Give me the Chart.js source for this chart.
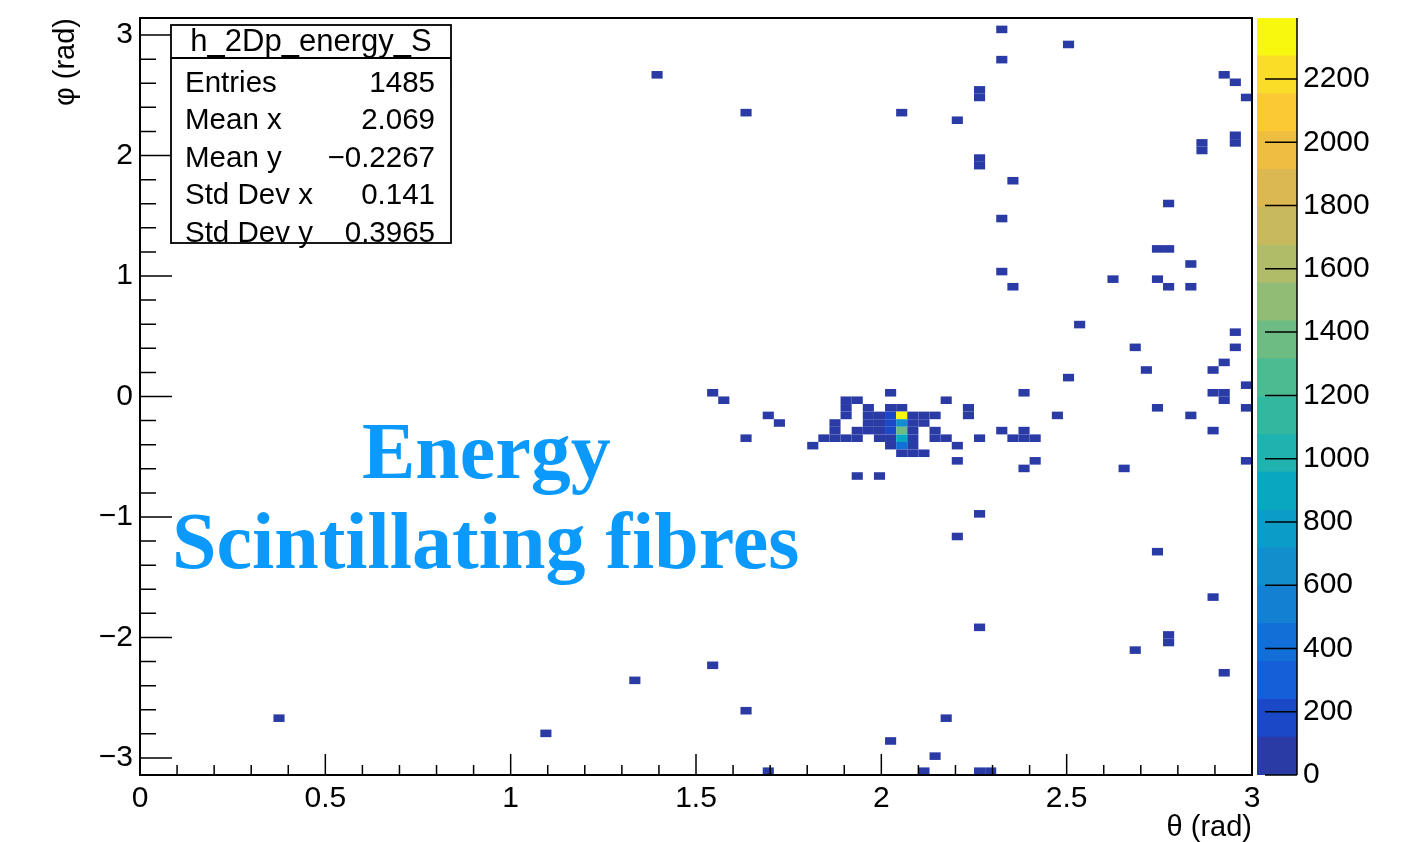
<!DOCTYPE html>
<html>
<head>
<meta charset="utf-8">
<script src="https://cdn.jsdelivr.net/npm/chart.js@4.4.1/dist/chart.umd.min.js"></script>
<style>
  html, body { margin: 0; padding: 0; background: #fff; }
  #wrap { position: relative; width: 1414px; height: 842px; }
  #main { position: absolute; left: 0; top: 0; }
  #zbar { position: absolute; left: 1252px; top: 0; }
</style>
</head>
<body>
<div id="wrap">
  <canvas id="main" width="1414" height="842"></canvas>
  <canvas id="zbar" width="162" height="842"></canvas>
</div>
<script>
// phi bin centres (rad), one entry per occupied row, top to bottom
const phiRows = [3.047, 2.922, 2.796, 2.670, 2.608, 2.545, 2.482, 2.356, 2.293, 2.168,
  2.105, 2.042, 1.979, 1.916, 1.791, 1.602, 1.477, 1.225, 1.100, 1.037,
  0.974, 0.911, 0.597, 0.534, 0.408, 0.283, 0.220, 0.157, 0.094, 0.031,
  -0.031, -0.094, -0.157, -0.220, -0.283, -0.346, -0.408, -0.471, -0.534, -0.597,
  -0.660, -0.974, -1.162, -1.288, -1.665, -1.916, -1.979, -2.042, -2.105, -2.231,
  -2.293, -2.356, -2.608, -2.670, -2.796, -2.859, -2.985, -3.110];

// theta bin centres (rad) of the filled cells in each row
const thetaRows = [
  [2.325], [2.505], [2.325], [1.395, 2.925], [0.825, 2.955], [2.265], [2.265, 2.985],
  [1.635, 2.055], [2.205], [2.955], [2.865, 2.955], [2.865], [2.265], [2.265], [2.355],
  [2.775], [2.325], [2.745, 2.775], [2.835], [2.325], [2.625, 2.745], [2.355, 2.775, 2.835],
  [2.535], [2.955], [2.685, 2.955], [2.925], [2.715, 2.895], [2.505], [2.985],
  [1.545, 2.025, 2.385, 2.895, 2.925],
  [1.575, 1.905, 1.935, 2.175, 2.925],
  [1.905, 1.965, 2.025, 2.055, 2.235, 2.745, 2.985],
  [1.695, 1.905, 1.965, 1.995, 2.025, 2.055, 2.085, 2.115, 2.145, 2.235, 2.475, 2.835],
  [1.725, 1.875, 1.965, 1.995, 2.025, 2.055, 2.085, 2.115],
  [1.875, 1.935, 1.965, 1.995, 2.025, 2.055, 2.085, 2.145, 2.325, 2.385, 2.895],
  [1.635, 1.845, 1.875, 1.905, 1.935, 1.995, 2.025, 2.055, 2.085, 2.145, 2.175, 2.265, 2.355, 2.385, 2.415],
  [1.815, 2.025, 2.055, 2.085, 2.205],
  [2.055, 2.085, 2.115],
  [2.205, 2.415, 2.985],
  [2.385, 2.655],
  [1.935, 1.995],
  [2.265], [2.205], [2.745], [2.895], [2.265], [2.775], [2.775], [2.685], [1.545],
  [2.925], [1.335], [1.635], [0.375, 2.175], [1.095], [2.025], [2.145],
  [1.695, 2.115, 2.265, 2.295]
];

// energy content of those cells
const energyRows = [
  [35], [28], [41], [27, 22], [25, 30], [33], [47, 26],
  [33, 29], [25], [38], [31, 44], [52], [36], [29], [24],
  [27], [33], [40, 35], [22], [30], [31, 28], [26, 37, 24],
  [30], [27], [26, 34], [29], [24, 38], [31], [28],
  [34, 42, 45, 33, 41],
  [31, 58, 47, 29, 36],
  [63, 71, 96, 88, 40, 30, 25],
  [28, 55, 84, 102, 185, 2390, 97, 76, 49, 36, 27, 35],
  [33, 45, 79, 93, 210, 650, 91, 54],
  [52, 68, 81, 99, 195, 1380, 105, 46, 48, 39, 29],
  [30, 43, 61, 57, 49, 87, 112, 900, 101, 58, 39, 35, 56, 62, 44],
  [37, 94, 420, 89, 32],
  [78, 66, 44],
  [28, 31, 23],
  [37, 26],
  [31, 26],
  [29], [33], [24], [27], [36], [31], [40], [25], [32],
  [30], [29], [26], [27, 28], [25], [34], [26],
  [24, 23, 38, 31]
];

const xTickValues = [0, 0.5, 1, 1.5, 2, 2.5, 3];
const yTickValues = [-3, -2, -1, 0, 1, 2, 3];
const zTickValues = [0, 200, 400, 600, 800, 1000, 1200, 1400, 1600, 1800, 2000, 2200];
const zMax = 2393;

const paletteColors = ['#2a3ba5', '#1b48c6', '#1560d8', '#126fd7', '#1380d2', '#138ecd', '#0c9cc8',
  '#0aa7c0', '#1fb2ae', '#33b89f', '#4dbb91', '#6dbc84', '#91bc75', '#b1bc68', '#c9b95e',
  '#dcb853', '#eebd42', '#fbc934', '#f9dd26', '#f8f80f'];

const statsTitle = 'h_2Dp_energy_S';
const statsLabels = ['Entries', 'Mean x', 'Mean y', 'Std Dev x', 'Std Dev y'];
const statsValues = ['1485', '2.069', '\u22120.2267', '0.141', '0.3965'];

const xBinHalf = 0.015;
const yBinHalf = Math.PI / 100;
const sans = '"Liberation Sans", Arial, Helvetica, sans-serif';

var cells = [];
phiRows.forEach((phi, r) => {
  thetaRows[r].forEach((th, k) => {
    cells.push({ x: th, y: phi, v: energyRows[r][k] });
  });
});

function cellColor(v) {
  var band = Math.floor(v / (zMax / paletteColors.length));
  return paletteColors[Math.min(band, paletteColors.length - 1)];
}

function minusSign(v) {
  return String(v).replace('-', '\u2212');
}

// keep the plot frame exactly where ROOT put it
function noOverhang(s) {
  s.paddingTop = 0;
  s.paddingBottom = 0;
  s.paddingLeft = 0;
  s.paddingRight = 0;
}

const cellPlugin = {
  id: 'cells',
  beforeDatasetsDraw(chart) {
    const ctx = chart.ctx;
    const x = chart.scales.x, y = chart.scales.y;
    const area = chart.chartArea;
    ctx.save();
    ctx.beginPath();
    ctx.rect(area.left, area.top, area.right - area.left, area.bottom - area.top);
    ctx.clip();
    chart.data.datasets[0].data.forEach((p) => {
      const x0 = x.getPixelForValue(p.x - xBinHalf);
      const x1 = x.getPixelForValue(p.x + xBinHalf);
      const y0 = y.getPixelForValue(p.y + yBinHalf);
      const y1 = y.getPixelForValue(p.y - yBinHalf);
      ctx.fillStyle = cellColor(p.v);
      ctx.fillRect(x0, y0, x1 - x0, y1 - y0);
    });
    ctx.restore();
  }
};

const framePlugin = {
  id: 'frame',
  afterDraw(chart) {
    const ctx = chart.ctx;
    const x = chart.scales.x, y = chart.scales.y;
    const a = chart.chartArea;
    ctx.save();
    ctx.strokeStyle = '#000';
    ctx.lineWidth = 1.5;
    ctx.beginPath();
    // ticks pointing into the frame, ROOT style
    for (let k = 0; k <= 30; k++) {
      const px = x.getPixelForValue(k / 10);
      const len = k % 5 === 0 ? 21 : 10;
      ctx.moveTo(px, a.bottom);
      ctx.lineTo(px, a.bottom - len);
    }
    for (let k = -15; k <= 15; k++) {
      const py = y.getPixelForValue(k / 5);
      const len = k % 5 === 0 ? 32 : 16;
      ctx.moveTo(a.left, py);
      ctx.lineTo(a.left + len, py);
    }
    ctx.stroke();
    ctx.lineWidth = 2;
    ctx.strokeRect(a.left, a.top, a.right - a.left, a.bottom - a.top);

    // stats box
    ctx.fillStyle = '#fff';
    ctx.fillRect(171, 25, 280, 218);
    ctx.lineWidth = 1.8;
    ctx.strokeRect(171, 25, 280, 218);
    ctx.beginPath();
    ctx.moveTo(171, 58);
    ctx.lineTo(451, 58);
    ctx.stroke();
    ctx.fillStyle = '#000';
    ctx.textBaseline = 'middle';
    ctx.textAlign = 'center';
    ctx.font = '31px ' + sans;
    ctx.fillText(statsTitle, 311, 42);
    ctx.font = '29.5px ' + sans;
    statsLabels.forEach((lab, k) => {
      const yy = 83.5 + k * 37.6;
      ctx.textAlign = 'left';
      ctx.fillText(lab, 185, yy);
      ctx.textAlign = 'right';
      ctx.fillText(statsValues[k], 435, yy);
    });

    // overlay label
    ctx.fillStyle = '#0b9afc';
    ctx.textAlign = 'left';
    ctx.textBaseline = 'alphabetic';
    ctx.font = 'bold 80px "Liberation Serif", "Times New Roman", serif';
    ctx.fillText('Energy', 362, 478);
    ctx.fillText('Scintillating fibres', 172, 568);
    ctx.restore();
  }
};

new Chart(document.getElementById('main'), {
  type: 'scatter',
  data: {
    datasets: [{ data: cells, pointRadius: 0, pointHoverRadius: 0, showLine: false }]
  },
  options: {
    responsive: false,
    animation: false,
    events: [],
    layout: { padding: { left: 0, top: 18, right: 162, bottom: 0 } },
    plugins: { legend: { display: false }, tooltip: { enabled: false } },
    scales: {
      x: {
        type: 'linear', min: 0, max: 3,
        grid: { display: false, drawTicks: false },
        border: { display: false },
        afterBuildTicks: (s) => { s.ticks = xTickValues.map((v) => ({ value: v })); },
        ticks: { color: '#000', font: { family: sans, size: 30 }, padding: 6, maxRotation: 0, autoSkip: false,
          callback: (v) => String(v) },
        title: { display: true, text: '\u03b8 (rad)', align: 'end', color: '#000',
          font: { family: sans, size: 29, lineHeight: 1 }, padding: 0 },
        afterFit: (s) => { s.height = 67; noOverhang(s); }
      },
      y: {
        type: 'linear', min: -Math.PI, max: Math.PI,
        grid: { display: false, drawTicks: false },
        border: { display: false },
        afterBuildTicks: (s) => { s.ticks = yTickValues.map((v) => ({ value: v })); },
        ticks: { color: '#000', font: { family: sans, size: 30 }, padding: 7, autoSkip: false,
          callback: (v) => minusSign(v) },
        title: { display: true, text: '\u03c6 (rad)', align: 'end', color: '#000',
          font: { family: sans, size: 29, lineHeight: 1 }, padding: { top: 51, bottom: 0 } },
        afterFit: (s) => { s.width = 140; noOverhang(s); }
      }
    }
  },
  plugins: [cellPlugin, framePlugin]
});

const zAxisPlugin = {
  id: 'zaxis',
  afterDraw(chart) {
    const ctx = chart.ctx;
    const y = chart.scales.y;
    const a = chart.chartArea;
    ctx.save();
    ctx.strokeStyle = '#000';
    ctx.lineWidth = 1.5;
    ctx.beginPath();
    zTickValues.forEach((v) => {
      const py = y.getPixelForValue(v);
      ctx.moveTo(a.right - 32, py);
      ctx.lineTo(a.right, py);
    });
    ctx.moveTo(a.right, a.top);
    ctx.lineTo(a.right, a.bottom);
    ctx.stroke();
    ctx.restore();
  }
};

new Chart(document.getElementById('zbar'), {
  type: 'bar',
  data: {
    labels: [''],
    datasets: paletteColors.map((c) => ({
      data: [zMax / paletteColors.length],
      backgroundColor: c,
      borderWidth: 0,
      barPercentage: 1,
      categoryPercentage: 1
    }))
  },
  options: {
    responsive: false,
    animation: false,
    events: [],
    layout: { padding: { left: 5, top: 18, right: 0, bottom: 67 } },
    plugins: { legend: { display: false }, tooltip: { enabled: false } },
    scales: {
      x: { stacked: true, display: false },
      y: {
        stacked: true, position: 'right', min: 0, max: zMax,
        grid: { display: false, drawTicks: false },
        border: { display: false },
        afterBuildTicks: (s) => { s.ticks = zTickValues.map((v) => ({ value: v })); },
        ticks: { color: '#000', font: { family: sans, size: 30 }, padding: 6, autoSkip: false,
          callback: (v) => String(v) },
        afterFit: (s) => { s.width = 117; noOverhang(s); }
      }
    }
  },
  plugins: [zAxisPlugin]
});
</script>
</body>
</html>
